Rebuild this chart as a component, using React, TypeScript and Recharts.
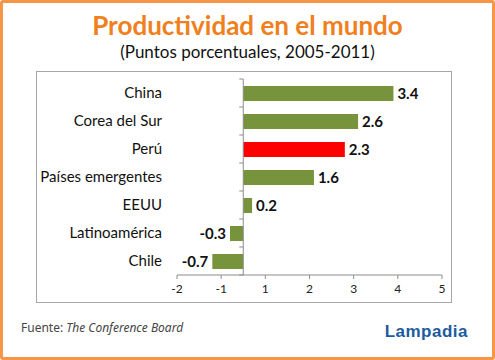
import { BarChart, Bar, XAxis, YAxis, Cell, LabelList, ReferenceLine } from "recharts"

// Productividad 2005-2011, puntos porcentuales
const categories = ["China", "Corea del Sur", "Perú", "Países emergentes", "EEUU", "Latinoamérica", "Chile"]
const values = [3.4, 2.6, 2.3, 1.6, 0.2, -0.3, -0.7]
const highlight = "Perú"

// the original axis labels sit half a unit off the real values
const xTicks = [-1.5, -0.5, 0.5, 1.5, 2.5, 3.5, 4.5]
const xTickLabels = ["-2", "-1", "1", "2", "3", "4", "5"]

const data = categories.map((name, i) => ({ name, value: values[i] }))

const GREEN = "#77933C"
const RED = "#FF0000"
const AXIS = "#8C8C8C"
const FONT = "Lato, 'Open Sans', sans-serif"

function ValueLabel(props: any) {
  const { x, y, width, height, value } = props
  const left = Math.min(x, x + width)
  const right = Math.max(x, x + width)
  const neg = value < 0
  return (
    <text
      x={neg ? left - 4 : right + 4}
      y={y + height / 2}
      dy="0.36em"
      textAnchor={neg ? "end" : "start"}
      fontSize={15}
      fontWeight={700}
      fill="#111"
      fontFamily={FONT}
    >
      {value}
    </text>
  )
}

function ZeroAxis(props: any) {
  const { x1, y1, x2, y2 } = props
  const n = categories.length
  const marks = []
  for (let i = 0; i <= n; i++) {
    const y = y1 + ((y2 - y1) * i) / n
    marks.push(<line key={i} x1={x1 - 4} x2={x1} y1={y} y2={y} stroke={AXIS} />)
  }
  return (
    <g>
      <line x1={x1} y1={y1} x2={x2} y2={y2} stroke={AXIS} />
      {marks}
    </g>
  )
}

export default function App() {
  return (
    <div style={{ position: "absolute", left: 0, top: 0, width: 495, height: 360, background: "#fff", fontFamily: FONT }}>
      <div
        style={{
          position: "absolute",
          inset: 0,
          border: "3px solid #F79646",
          borderRadius: 3,
          boxSizing: "border-box",
        }}
      />
      <div
        style={{
          position: "absolute",
          top: 12,
          left: 0,
          width: 495,
          textAlign: "center",
          fontSize: 26,
          lineHeight: "26px",
          fontWeight: 700,
          color: "#F07F1E",
        }}
      >
        Productividad en el mundo
      </div>
      <div
        style={{
          position: "absolute",
          top: 43,
          left: 0,
          width: 495,
          textAlign: "center",
          fontSize: 17,
          lineHeight: "17px",
          color: "#111",
        }}
      >
        (Puntos porcentuales, 2005-2011)
      </div>

      <div
        style={{
          position: "absolute",
          left: 36,
          top: 71,
          width: 416,
          height: 232,
          border: "1px solid #A6A6A6",
          boxSizing: "border-box",
        }}
      />
      <div style={{ position: "absolute", left: 36, top: 71 }}>
        <BarChart
          width={416}
          height={232}
          data={data}
          layout="vertical"
          margin={{ top: 8, right: 10, bottom: 0, left: 0 }}
          barSize={15}
        >
          <XAxis
            type="number"
            domain={[-1.5, 4.5]}
            ticks={xTicks}
            interval={0}
            tickFormatter={(v, i) => xTickLabels[i]}
            stroke={AXIS}
            tickSize={4}
            tickMargin={5}
            height={28}
            tick={{ fill: "#222", fontSize: 12, fontFamily: FONT }}
          />
          <YAxis
            type="category"
            dataKey="name"
            width={141}
            axisLine={false}
            tickLine={false}
            tickSize={0}
            tickMargin={15}
            interval={0}
            tick={{ fill: "#111", fontSize: 15, fontFamily: FONT }}
          />
          <Bar dataKey="value" isAnimationActive={false}>
            {data.map((d) => (
              <Cell key={d.name} fill={d.name === highlight ? RED : GREEN} />
            ))}
            <LabelList dataKey="value" content={<ValueLabel />} />
          </Bar>
          <ReferenceLine x={0} stroke={AXIS} shape={<ZeroAxis />} />
        </BarChart>
      </div>

      <div style={{ position: "absolute", left: 21, top: 321, fontSize: 12, lineHeight: "14px", color: "#444", fontFamily: "'Noto Sans', sans-serif" }}>
        Fuente: <i>The Conference Board</i>
      </div>
      <div
        style={{
          position: "absolute",
          right: 27,
          top: 323,
          fontSize: 17,
          lineHeight: "17px",
          fontWeight: 700,
          color: "#1B5C9E",
          fontFamily: "'Liberation Sans', Arial, sans-serif",
          letterSpacing: 0.5,
        }}
      >
        Lampadia
      </div>
    </div>
  )
}
